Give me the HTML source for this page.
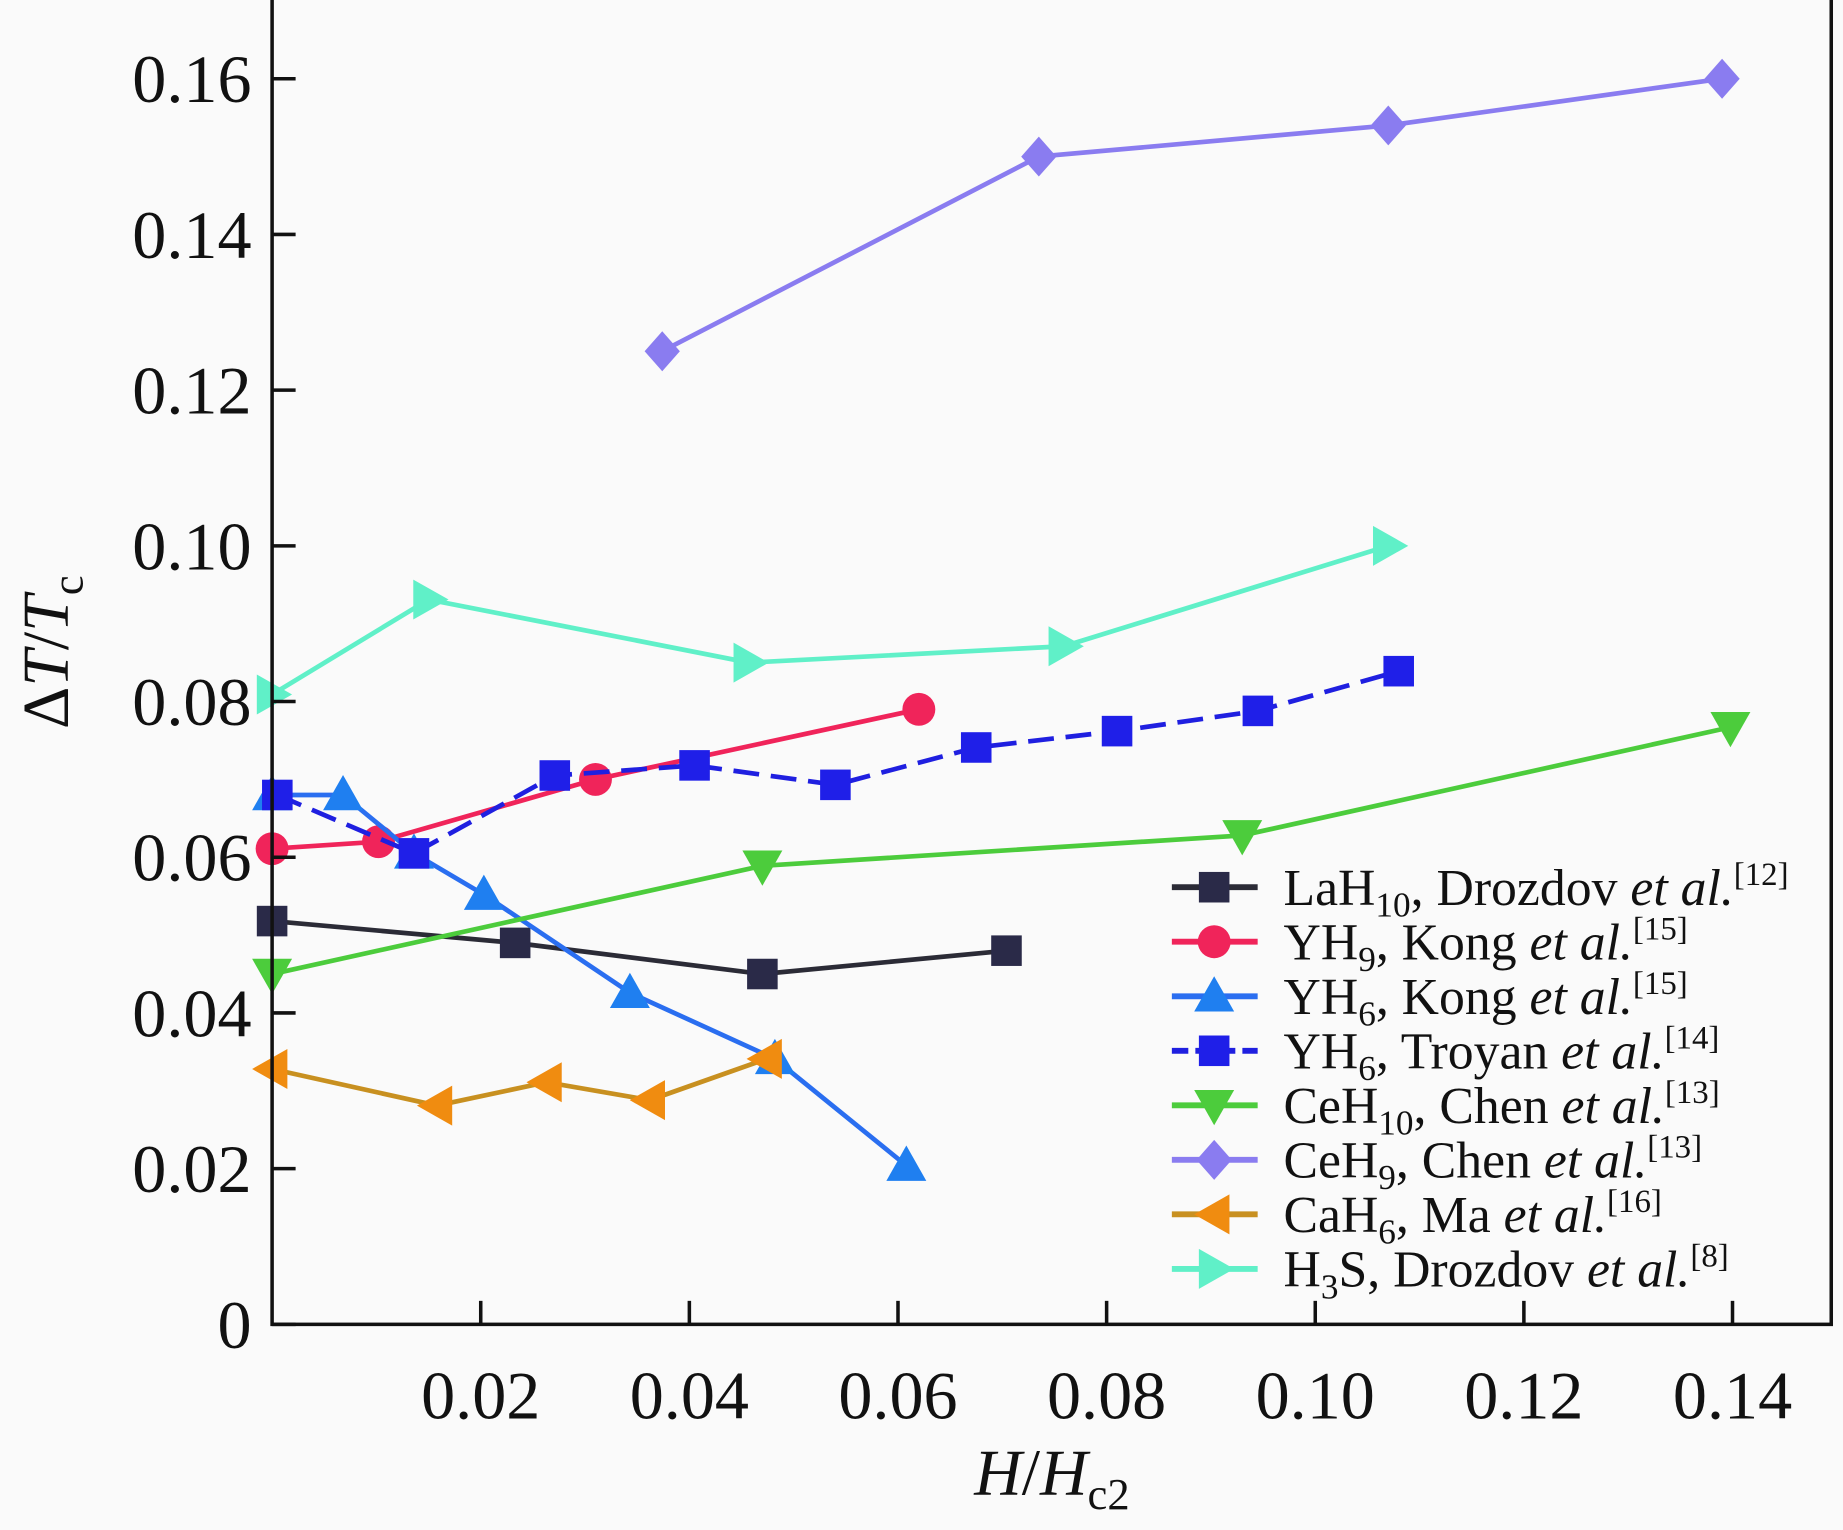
<!DOCTYPE html>
<html><head><meta charset="utf-8"><style>
html,body{margin:0;padding:0;background:#fafafa;}
svg{display:block;font-family:"Liberation Serif",serif;}
</style></head><body>
<svg width="1843" height="1530" viewBox="0 0 1568 1302" preserveAspectRatio="none" xmlns="http://www.w3.org/2000/svg">
<rect x="0" y="0" width="1568" height="1302" fill="#fafafa"/>
<g id="plot"></g>
<g id="axes"></g>
<g id="legend"></g>
</svg>
<script>
const xTicks=[0.02,0.04,0.06,0.08,0.10,0.12,0.14];
const xTickLabels=["0.02","0.04","0.06","0.08","0.10","0.12","0.14"];
const yTicks=[0,0.02,0.04,0.06,0.08,0.10,0.12,0.14,0.16];
const yTickLabels=["0","0.02","0.04","0.06","0.08","0.10","0.12","0.14","0.16"];
const laX=[0,0.0233,0.047,0.0704];
const laY=[0.0518,0.049,0.045,0.048];
const yh9X=[0,0.0102,0.031,0.062];
const yh9Y=[0.0611,0.062,0.070,0.079];
const yh6kX=[0,0.0068,0.0136,0.0203,0.0343,0.0482,0.0608];
const yh6kY=[0.068,0.068,0.0605,0.0552,0.0426,0.0341,0.0204];
const yh6tX=[0.0005,0.0136,0.0271,0.0405,0.054,0.0675,0.081,0.0945,0.108];
const yh6tY=[0.068,0.0605,0.0705,0.0718,0.0693,0.0741,0.0762,0.0788,0.0839];
const ce10X=[0,0.047,0.093,0.1398];
const ce10Y=[0.045,0.0589,0.0628,0.0767];
const ce9X=[0.0374,0.0735,0.107,0.139];
const ce9Y=[0.125,0.150,0.154,0.160];
const caX=[0,0.0158,0.0263,0.0362,0.0474];
const caY=[0.0328,0.0281,0.0311,0.0288,0.0341];
const h3sX=[0,0.015,0.0457,0.0759,0.107];
const h3sY=[0.0809,0.0931,0.085,0.0871,0.100];

const NS="http://www.w3.org/2000/svg";
const L=231.5,R=1558,B=1127,T=0;
function sx(v){return L+v/0.02*177.5;}
function sy(v){return B-v/0.02*132.5;}
function mk(tag,attrs,parent){const e=document.createElementNS(NS,tag);for(const k in attrs)e.setAttribute(k,attrs[k]);parent.appendChild(e);return e;}
const plot=document.getElementById('plot'),axes=document.getElementById('axes'),leg=document.getElementById('legend');

function marker(type,cx,cy,fill,parent){
  const s=17;let e;
  if(type==='square')e=mk('rect',{x:cx-13,y:cy-13,width:26,height:26,fill:fill},parent);
  else if(type==='circle')e=mk('circle',{cx:cx,cy:cy,r:14,fill:fill},parent);
  else if(type==='up')e=mk('polygon',{points:`${cx},${cy-s} ${cx-s},${cy+13} ${cx+s},${cy+13}`,fill:fill},parent);
  else if(type==='down')e=mk('polygon',{points:`${cx},${cy+s} ${cx-s},${cy-13} ${cx+s},${cy-13}`,fill:fill},parent);
  else if(type==='diamond')e=mk('polygon',{points:`${cx},${cy-s} ${cx+15},${cy} ${cx},${cy+s} ${cx-15},${cy}`,fill:fill},parent);
  else if(type==='left')e=mk('polygon',{points:`${cx-s},${cy} ${cx+13},${cy-s} ${cx+13},${cy+s}`,fill:fill},parent);
  else if(type==='right')e=mk('polygon',{points:`${cx+s},${cy} ${cx-13},${cy-s} ${cx-13},${cy+s}`,fill:fill},parent);
  return e;
}
const series=[
 {name:'lah10',x:laX,y:laY,line:'#2b2b36',fill:'#2a2a48',m:'square',dash:null,label:'LaH<tspan font-size="30" dy="10">10</tspan><tspan dy="-10">, Drozdov </tspan><tspan font-style="italic">et al.</tspan><tspan font-size="28" dy="-17">[12]</tspan>'},
 {name:'yh9',x:yh9X,y:yh9Y,line:'#f0245a',fill:'#f0245a',m:'circle',dash:null,label:'YH<tspan font-size="30" dy="10">9</tspan><tspan dy="-10">, Kong </tspan><tspan font-style="italic">et al.</tspan><tspan font-size="28" dy="-17">[15]</tspan>'},
 {name:'yh6-kong',x:yh6kX,y:yh6kY,line:'#2a6ef0',fill:'#1f7ff0',m:'up',dash:null,label:'YH<tspan font-size="30" dy="10">6</tspan><tspan dy="-10">, Kong </tspan><tspan font-style="italic">et al.</tspan><tspan font-size="28" dy="-17">[15]</tspan>'},
 {name:'yh6-troyan',x:yh6tX,y:yh6tY,line:'#1f1fe0',fill:'#1f1fe8',m:'square',dash:'22 10',label:'YH<tspan font-size="30" dy="10">6</tspan><tspan dy="-10">, Troyan </tspan><tspan font-style="italic">et al.</tspan><tspan font-size="28" dy="-17">[14]</tspan>'},
 {name:'ceh10',x:ce10X,y:ce10Y,line:'#4ccc3c',fill:'#4ccc3c',m:'down',dash:null,label:'CeH<tspan font-size="30" dy="10">10</tspan><tspan dy="-10">, Chen </tspan><tspan font-style="italic">et al.</tspan><tspan font-size="28" dy="-17">[13]</tspan>'},
 {name:'ceh9',x:ce9X,y:ce9Y,line:'#8a7cf0',fill:'#8a7cf0',m:'diamond',dash:null,label:'CeH<tspan font-size="30" dy="10">9</tspan><tspan dy="-10">, Chen </tspan><tspan font-style="italic">et al.</tspan><tspan font-size="28" dy="-17">[13]</tspan>'},
 {name:'cah6',x:caX,y:caY,line:'#c89020',fill:'#f08c10',m:'left',dash:null,label:'CaH<tspan font-size="30" dy="10">6</tspan><tspan dy="-10">, Ma </tspan><tspan font-style="italic">et al.</tspan><tspan font-size="28" dy="-17">[16]</tspan>'},
 {name:'h3s',x:h3sX,y:h3sY,line:'#60f0c8',fill:'#60f0c8',m:'right',dash:null,label:'H<tspan font-size="30" dy="10">3</tspan><tspan dy="-10">S, Drozdov </tspan><tspan font-style="italic">et al.</tspan><tspan font-size="28" dy="-17">[8]</tspan>'}
];
series.forEach((s,i)=>{
  const g=mk('g',{},plot);
  
  
  const pts=s.x.map((v,j)=>sx(v)+','+sy(s.y[j])).join(' ');
  const pl=mk('polyline',{points:pts,fill:'none',stroke:s.line,'stroke-width':4},g);
  if(s.dash)pl.setAttribute('stroke-dasharray',s.dash);
  
  
  s.x.forEach((v,j)=>{
    const m=marker(s.m,sx(v),sy(s.y[j]),s.fill,g);
    
    
  });
  const ly=755+i*46.4;
  const lg=mk('g',{},leg);
  
  
  const ll=mk('line',{x1:997,y1:ly,x2:1070,y2:ly,stroke:s.line,'stroke-width':5},lg);
  if(s.dash)ll.setAttribute('stroke-dasharray','14 6');
  marker(s.m,1033,ly,s.fill,lg);
  const t=mk('text',{x:1092,y:ly+15,'font-size':44,fill:'#111'},lg);
  t.innerHTML=s.label;
});
const fr=mk('rect',{x:L,y:T-5,width:R-L,height:B-T+5,fill:'none',stroke:'#111','stroke-width':3},axes);


xTicks.forEach((v,i)=>{
  mk('line',{x1:sx(v),y1:B,x2:sx(v),y2:B-20,stroke:'#111','stroke-width':3},axes);
  const t=mk('text',{x:sx(v),y:1207,'font-size':58,'text-anchor':'middle',fill:'#111'},axes);
  t.textContent=xTickLabels[i];
  
  
});
yTicks.forEach((v,i)=>{
  mk('line',{x1:L,y1:sy(v),x2:L+20,y2:sy(v),stroke:'#111','stroke-width':3},axes);
  const t=mk('text',{x:214,y:sy(v)+20,'font-size':58,'text-anchor':'end',fill:'#111'},axes);
  t.textContent=yTickLabels[i];
  
  
});
const xt=mk('text',{x:895,y:1272,'font-size':56,'text-anchor':'middle',fill:'#111'},axes);
xt.innerHTML='<tspan font-style="italic">H</tspan>/<tspan font-style="italic">H</tspan><tspan font-size="38" dy="12">c2</tspan>';


const yt=mk('text',{x:0,y:0,'font-size':56,'text-anchor':'middle',fill:'#111',transform:'translate(58,555) rotate(-90)'},axes);
yt.innerHTML='Δ<tspan font-style="italic">T</tspan>/<tspan font-style="italic">T</tspan><tspan font-size="38" dy="12">c</tspan>';


</script>
</body></html>
